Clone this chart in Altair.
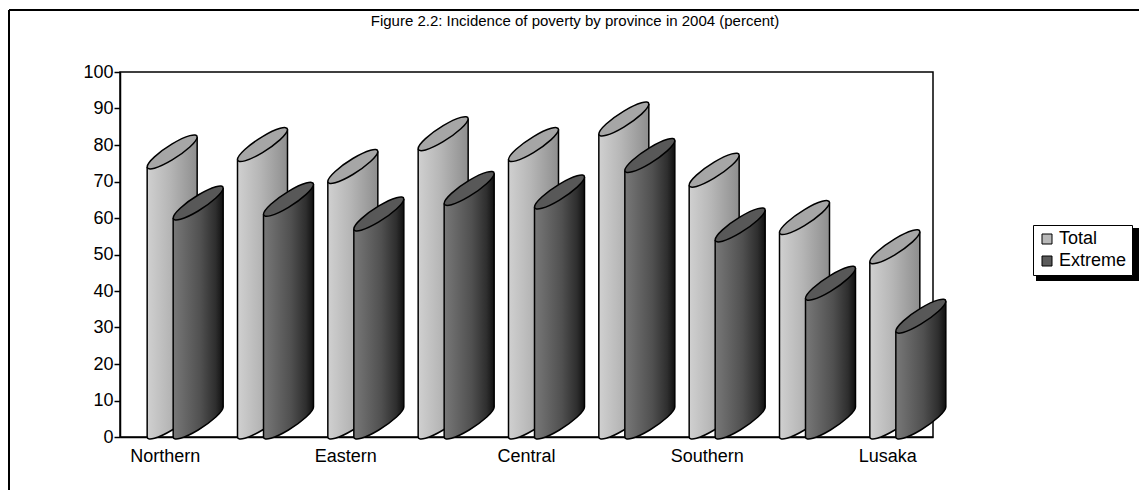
import altair as alt
import pandas as pd

# ---------------- data ----------------
provinces = ["Northern", "North-Western", "Eastern", "Luapula", "Central",
             "Western", "Southern", "Copperbelt", "Lusaka"]
total = [74, 76, 70, 79, 76, 83, 69, 56, 48]
extreme = [60, 61, 57, 64, 63, 73, 54, 38, 29]
shown_labels = ["Northern", "Eastern", "Central", "Southern", "Lusaka"]
series = ["Total", "Extreme"]
y_ticks = list(range(0, 101, 10))
title_text = "Figure 2.2: Incidence of poverty by province in 2004 (percent)"

df = pd.DataFrame({
    "province": provinces * 2,
    "series": ["Total"] * len(provinces) + ["Extreme"] * len(provinces),
    "value": total + extreme,
})

# ---------------- cylinder shapes (pixel units, size=4 -> scale 1) ----------------
HALF, SKEW, MINOR, K = 25, 30, 8, 0.5523


def pt(c, s):
    return (HALF * c, -SKEW / 2 - SKEW / 2 * c + MINOR * s)


def fmt(p):
    return f"{p[0]:.2f},{p[1]:.2f}"


quads = [((1, 0), (1, K), (K, 1), (0, 1)),
         ((0, 1), (-K, 1), (-1, K), (-1, 0)),
         ((-1, 0), (-1, -K), (-K, -1), (0, -1)),
         ((0, -1), (K, -1), (1, -K), (1, 0))]


def seg(q):
    return "C" + " ".join(fmt(pt(*p)) for p in q[1:])


ellipse_path = "M" + fmt(pt(1, 0)) + "".join(seg(q) for q in quads) + "Z"
lower_arc = "M" + fmt(pt(1, 0)) + seg(quads[0]) + seg(quads[1])
# small overlaps (2px) hide the seams between the pieces of a cylinder
top_tri = f"M{-HALF},2L{HALF},2L{HALF},{-SKEW}Z"
bottom_fill = f"M{-HALF},{-SKEW - 2}L{HALF},{-SKEW - 2}L" + fmt(pt(1, 0)) + seg(quads[0]) + seg(quads[1]) + "Z"


def grad(stops):
    return {"gradient": "linear", "x1": 0, "x2": 1, "y1": 0, "y2": 0,
            "stops": [{"offset": o, "color": c} for o, c in stops]}


styles = {
    "Total": dict(offset=7, body=grad([(0, "#d0d0d0"), (0.45, "#b6b6b6"), (1, "#8e8e8e")]),
                  face="#a6a6a6"),
    "Extreme": dict(offset=33, body=grad([(0, "#787878"), (0.55, "#505050"), (0.85, "#2e2e2e"), (1, "#101010")]),
                    face="#585858"),
}

FONT = "Liberation Sans"

x_enc = alt.X("province:N", sort=provinces,
              scale=alt.Scale(paddingInner=0, paddingOuter=0),
              axis=alt.Axis(values=shown_labels, title=None, ticks=False, labelAngle=0,
                            labelFontSize=18, labelFont=FONT, labelColor="black",
                            labelPadding=10, domainColor="black", domainWidth=1.5))
y_axis = alt.Axis(values=y_ticks, tickCount=11, title=None, grid=False, tickSize=6,
                  tickColor="black", tickWidth=1.5, domainColor="black",
                  domainWidth=1.5, labelFontSize=18, labelFont=FONT,
                  labelColor="black", labelPadding=1, labelOverlap=False,
                  labelFlush=False)
y_scale = alt.Scale(domain=[0, 100], nice=False)
y_enc = alt.Y("value:Q", scale=y_scale, axis=y_axis)
y_floor = alt.Y(datum=0, type="quantitative", scale=y_scale, axis=y_axis)

base = alt.Chart(df)

legend_layer = base.mark_point(opacity=0, filled=True, shape="square").encode(
    x=x_enc, y=y_enc,
    color=alt.Color("series:N", scale=alt.Scale(domain=series, range=["#b8b8b8", "#5a5a5a"]),
                    legend=alt.Legend(title=None, orient="none", legendX=913, legendY=153,
                                      direction="vertical", symbolType="square", symbolSize=100,
                                      symbolStrokeColor="black", symbolStrokeWidth=1,
                                      symbolOpacity=1, labelFontSize=18, labelFont=FONT,
                                      labelColor="black", strokeColor="black",
                                      fillColor="white", padding=5, rowPadding=4,
                                      labelOffset=3)),
)

layers = [legend_layer]
for s in series:
    st = styles[s]
    o = st["offset"]
    b = base.transform_filter(alt.datum.series == s)
    layers += [
        b.mark_bar(width=2 * HALF, xOffset=o, y2Offset=-SKEW, color=st["body"]).encode(
            x=x_enc, y=y_enc, y2=alt.datum(0)),
        b.mark_point(shape=bottom_fill, size=4, filled=True, color=st["body"], strokeWidth=0,
                     opacity=1, xOffset=o).encode(x=x_enc, y=y_floor),
        b.mark_point(shape=lower_arc, size=4, filled=False, color="black", strokeWidth=1.5,
                     opacity=1, xOffset=o).encode(x=x_enc, y=y_floor),
        b.mark_point(shape=top_tri, size=4, filled=True, color=st["body"], strokeWidth=0,
                     opacity=1, xOffset=o).encode(x=x_enc, y=y_enc),
        b.mark_rule(color="black", strokeWidth=1.5, xOffset=o - HALF).encode(
            x=x_enc, y=y_enc, y2=alt.datum(0)),
        b.mark_rule(color="black", strokeWidth=1.5, xOffset=o + HALF, yOffset=-SKEW,
                    y2Offset=-SKEW).encode(x=x_enc, y=y_enc, y2=alt.datum(0)),
        b.mark_point(shape=ellipse_path, size=4, filled=True, fill=st["face"], stroke="black",
                     strokeWidth=1.5, opacity=1, xOffset=o).encode(x=x_enc, y=y_enc),
    ]

one = alt.Chart(pd.DataFrame({"t": [title_text]}))
frame_top = one.mark_rule(color="black", strokeWidth=2).encode(
    x=alt.value(-111), x2=alt.value(1019), y=alt.value(-62))
frame_left = one.mark_rule(color="black", strokeWidth=2).encode(
    x=alt.value(-111), y=alt.value(-62), y2=alt.value(418))
title = one.mark_text(fontSize=15, font=FONT, baseline="top", align="center",
                      color="black").encode(text="t:N", x=alt.value(455), y=alt.value(-58))
shadow = one.mark_rect(color="black").encode(
    x=alt.value(916), x2=alt.value(1020), y=alt.value(156), y2=alt.value(209))

chart = alt.layer(shadow, *layers, frame_top, frame_left, title).properties(
    width=813, height=365,
    autosize=alt.AutoSizeParams(type="none"),
    padding={"left": 112, "top": 64, "right": 206, "bottom": 53},
    background="white",
).configure_view(stroke="black", strokeWidth=1.5)

chart.save("out.html", embed_options={"renderer": "svg", "actions": False})
